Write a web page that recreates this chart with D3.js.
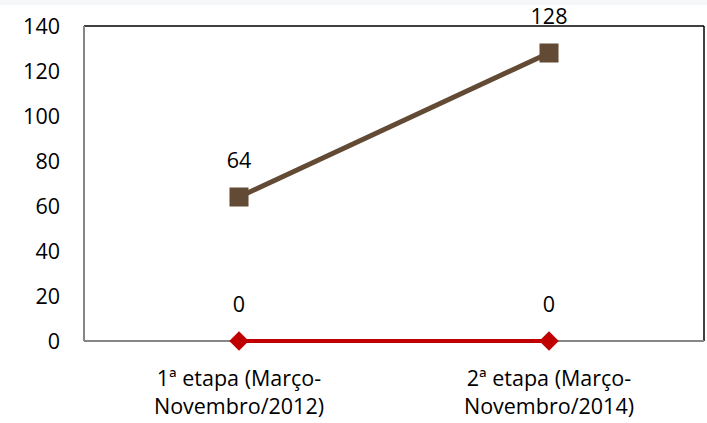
<!DOCTYPE html>
<html>
<head>
<meta charset="utf-8">
<script src="https://cdn.jsdelivr.net/npm/d3@7"></script>
<style>
html, body { margin: 0; padding: 0; background: #fff; overflow: hidden; }
svg { display: block; }
text { font-family: "Open Sans", "Liberation Sans", sans-serif; fill: #000; }
</style>
</head>
<body>
<div id="vis"></div>
<script>
var width = 707;
var height = 423;

// chart data
var categories = ["1ª etapa (Março-\nNovembro/2012)", "2ª etapa (Março-\nNovembro/2014)"];
var seriesBrown = [64, 128];
var seriesRed = [0, 0];
var yTicks = [0, 20, 40, 60, 80, 100, 120, 140];

var margin = { top: 26, right: 3, bottom: 82, left: 84 };
var fontSize = '21.5px';

var svg = d3.select('#vis')
    .append('svg')
    .attr('width', width)
    .attr('height', height);

// faint band at the very top
svg.append('rect')
    .attr('x', 0).attr('y', 0)
    .attr('width', width).attr('height', 5)
    .attr('fill', '#f6f7f9');

var x = d3.scaleBand()
    .domain(d3.range(categories.length))
    .range([margin.left, width - margin.right]);

var y = d3.scaleLinear()
    .domain([0, 140])
    .range([height - margin.bottom, margin.top]);

function cx(i) { return x(i) + x.bandwidth() / 2; }

// plot frame: top and right black, left and bottom grey
svg.append('line')
    .attr('x1', margin.left).attr('x2', width - margin.right)
    .attr('y1', y(140)).attr('y2', y(140))
    .attr('stroke', '#000').attr('stroke-width', 1.5);
svg.append('line')
    .attr('x1', width - margin.right).attr('x2', width - margin.right)
    .attr('y1', y(140)).attr('y2', y(0))
    .attr('stroke', '#000').attr('stroke-width', 1.5);
svg.append('line')
    .attr('x1', margin.left).attr('x2', margin.left)
    .attr('y1', y(140)).attr('y2', y(0))
    .attr('stroke', '#868686').attr('stroke-width', 2);
svg.append('line')
    .attr('x1', margin.left).attr('x2', width - margin.right)
    .attr('y1', y(0)).attr('y2', y(0))
    .attr('stroke', '#868686').attr('stroke-width', 2);

// y tick labels
svg.append('g').selectAll('text')
    .data(yTicks)
    .enter().append('text')
    .attr('x', 60)
    .attr('y', function (d) { return y(d); })
    .attr('dy', '0.36em')
    .attr('text-anchor', 'end')
    .style('font-size', fontSize)
    .text(function (d) { return d; });

// category labels
var catG = svg.append('g').selectAll('text')
    .data(categories)
    .enter().append('text')
    .attr('text-anchor', 'middle')
    .style('font-size', fontSize);
catG.each(function (d, i) {
    var lines = d.split('\n');
    d3.select(this).selectAll('tspan')
        .data(lines)
        .enter().append('tspan')
        .attr('x', cx(i))
        .attr('y', function (l, j) { return 386 + j * 28; })
        .text(function (l) { return l; });
});

var line = d3.line()
    .x(function (d, i) { return cx(i); })
    .y(function (d) { return y(d); });

// red series (zeros)
svg.append('path')
    .datum(seriesRed)
    .attr('d', line)
    .attr('fill', 'none')
    .attr('stroke', '#c00000')
    .attr('stroke-width', 4);

svg.append('g').selectAll('path')
    .data(seriesRed)
    .enter().append('path')
    .attr('d', d3.symbol().type(d3.symbolSquare).size(190))
    .attr('transform', function (d, i) { return 'translate(' + cx(i) + ',' + y(d) + ') rotate(45)'; })
    .attr('fill', '#c00000');

// brown series
svg.append('path')
    .datum(seriesBrown)
    .attr('d', line)
    .attr('fill', 'none')
    .attr('stroke', '#634a34')
    .attr('stroke-width', 5);

svg.append('g').selectAll('rect')
    .data(seriesBrown)
    .enter().append('rect')
    .attr('x', function (d, i) { return cx(i) - 9.5; })
    .attr('y', function (d) { return y(d) - 9.5; })
    .attr('width', 19)
    .attr('height', 19)
    .attr('fill', '#634a34');

// data labels
svg.append('g').selectAll('text')
    .data(seriesBrown.concat(seriesRed))
    .enter().append('text')
    .attr('x', function (d, i) { return cx(i % 2); })
    .attr('y', function (d) { return y(d) - 37; })
    .attr('dy', '0.36em')
    .attr('text-anchor', 'middle')
    .style('font-size', fontSize)
    .text(function (d) { return d; });
</script>
</body>
</html>
